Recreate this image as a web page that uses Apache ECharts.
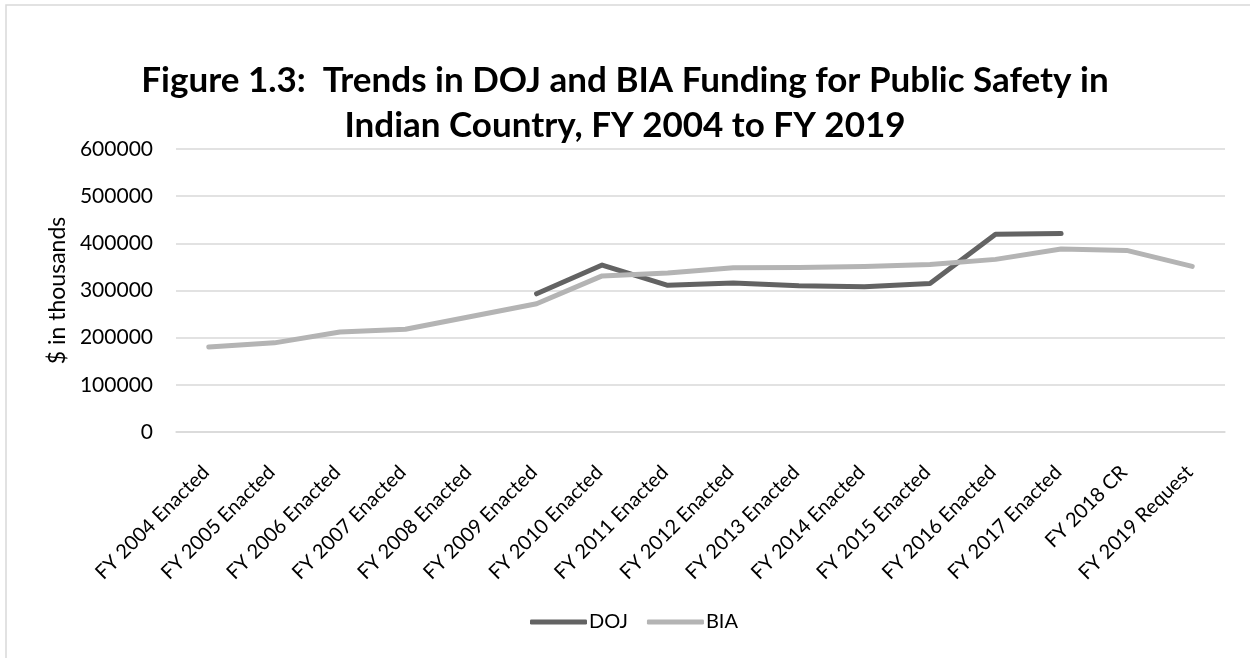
<!DOCTYPE html>
<html>
<head>
<meta charset="utf-8">
<script src="https://cdn.jsdelivr.net/npm/echarts@6/dist/echarts.min.js"></script>
<style>
  html, body { margin: 0; padding: 0; background: #fff; }
  #chart { width: 1250px; height: 658px; }
</style>
</head>
<body>
<div id="chart"></div>
<script>
const categories = [
  "FY 2004 Enacted", "FY 2005 Enacted", "FY 2006 Enacted", "FY 2007 Enacted",
  "FY 2008 Enacted", "FY 2009 Enacted", "FY 2010 Enacted", "FY 2011 Enacted",
  "FY 2012 Enacted", "FY 2013 Enacted", "FY 2014 Enacted", "FY 2015 Enacted",
  "FY 2016 Enacted", "FY 2017 Enacted", "FY 2018 CR", "FY 2019 Request"
];
// $ in thousands; DOJ has no data before FY 2009 or after FY 2017
const dojValues = [null, null, null, null, null, 293000, 354000, 311000,
  316000, 310000, 308000, 315000, 419000, 421000, null, null];
const biaValues = [180000, 189000, 212000, 218000, 245000, 272000, 331000, 337000,
  348000, 349000, 351000, 355000, 366000, 388000, 385000, 351000];
const yTicks = [0, 100000, 200000, 300000, 400000, 500000, 600000];

const font = "Lato";
const chart = echarts.init(document.getElementById("chart"));

chart.setOption({
  backgroundColor: "#fff",
  animation: false,
  title: {
    text: "Figure 1.3:  Trends in DOJ and BIA Funding for Public Safety in\nIndian Country, FY 2004 to FY 2019",
    left: "center",
    top: 53,
    textStyle: {
      fontFamily: font,
      fontSize: 35,
      fontWeight: "bold",
      color: "#000",
      lineHeight: 45
    }
  },
  graphic: [{
    type: "rect",
    shape: { x: 6, y: 5, width: 1250, height: 660 },
    style: { fill: "none", stroke: "#d9d9d9", lineWidth: 1.5 },
    silent: true
  }],
  legend: {
    bottom: 26,
    left: 530,
    padding: 0,
    itemWidth: 57,
    itemHeight: 5,
    itemGap: 19,
    icon: "roundRect",
    textStyle: { fontFamily: font, fontSize: 20, color: "#000", padding: [0, 0, 0, -3] },
    data: ["DOJ", "BIA"]
  },
  grid: { left: 176, right: 25, top: 149, bottom: 226 },
  xAxis: {
    type: "category",
    data: categories,
    boundaryGap: true,
    axisLine: { show: true, lineStyle: { color: "#d9d9d9", width: 1.5 } },
    axisTick: { show: false },
    axisLabel: {
      interval: 0,
      rotate: 45,
      margin: 20,
      verticalAlign: "top",
      padding: [0, 14, 0, 0],
      fontFamily: font,
      fontSize: 20,
      color: "#000"
    }
  },
  yAxis: {
    type: "value",
    min: yTicks[0],
    max: yTicks[yTicks.length - 1],
    interval: yTicks[1] - yTicks[0],
    name: "$ in thousands",
    nameLocation: "middle",
    nameGap: 107,
    nameTextStyle: { fontFamily: font, fontSize: 23, color: "#000" },
    axisLine: { show: false },
    axisTick: { show: false },
    axisLabel: {
      margin: 23,
      fontFamily: font,
      fontSize: 21,
      color: "#000",
      formatter: (v) => String(v)
    },
    splitLine: { lineStyle: { color: "#d9d9d9", width: 1.5 } }
  },
  series: [
    {
      name: "DOJ",
      type: "line",
      data: dojValues,
      showSymbol: false,
      symbol: "none",
      lineStyle: { color: "#636363", width: 5, cap: "round", join: "round" },
      itemStyle: { color: "#636363" }
    },
    {
      name: "BIA",
      type: "line",
      data: biaValues,
      showSymbol: false,
      symbol: "none",
      lineStyle: { color: "#b4b4b4", width: 5, cap: "round", join: "round" },
      itemStyle: { color: "#b4b4b4" }
    }
  ]
});

window.addEventListener("resize", () => {
  chart.resize();
});
</script>
</body>
</html>
